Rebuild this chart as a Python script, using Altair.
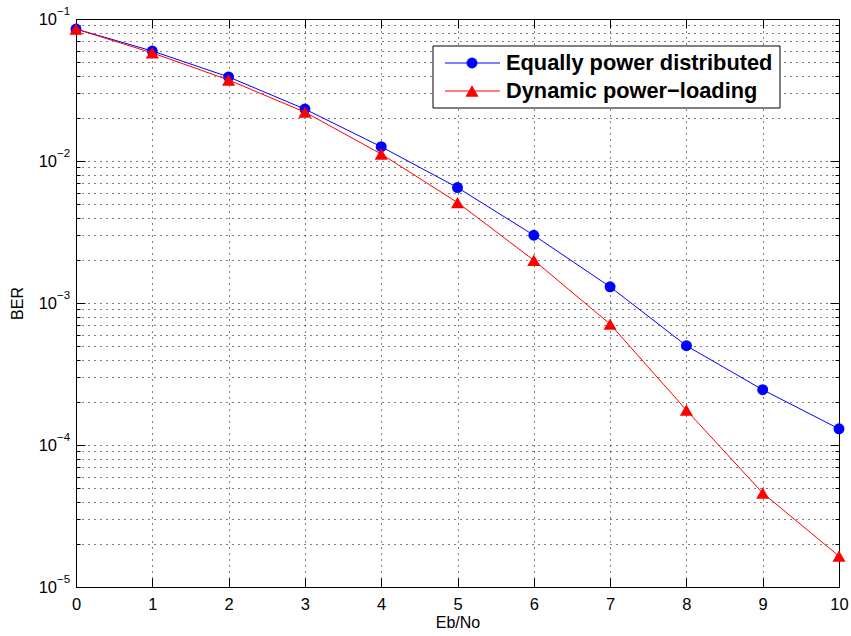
import altair as alt
import pandas as pd

# ---------------- data ----------------
ebno = [0, 1, 2, 3, 4, 5, 6, 7, 8, 9, 10]
ber_equal = [0.085, 0.0595, 0.0391, 0.0232, 0.0126, 0.0065, 0.0030, 0.0013, 0.00050, 0.000245, 0.00013]
ber_dynamic = [0.085, 0.0577, 0.0372, 0.0221, 0.0112, 0.0051, 0.0020, 0.00071, 0.000176, 0.0000459, 0.0000165]
series_names = ["Equally power distributed", "Dynamic power\u2212loading"]
series_colors = ["#0000FF", "#FF0000"]
series_shapes = ["circle", "triangle-up"]

x_ticks = [0, 1, 2, 3, 4, 5, 6, 7, 8, 9, 10]
y_major = [1e-5, 1e-4, 1e-3, 1e-2, 1e-1]
y_exponents = ["\u22125", "\u22124", "\u22123", "\u22122", "\u22121"]
y_minor = [m * 10.0 ** e for e in range(-5, -1) for m in range(2, 10)]

FONT = "Liberation Sans"

df_equal = pd.DataFrame({"x": ebno, "y": ber_equal})
df_dyn = pd.DataFrame({"x": ebno, "y": ber_dynamic})
ticks_df = pd.DataFrame({"v": y_major, "e": y_exponents})

xs = alt.Scale(domain=[0, 10], nice=False, zero=False)
ys = alt.Scale(type="log", domain=[1e-5, 1e-1], nice=False)

x_grid = alt.Axis(orient="bottom", values=x_ticks, grid=True, gridColor="#000000",
                  gridDash=[1, 5], gridWidth=1, gridOpacity=1,
                  labels=False, ticks=False, domain=False, title=None)
x_bottom = alt.Axis(orient="bottom", values=x_ticks, offset=-9, tickSize=9, tickColor="#000000",
                    tickWidth=1, domain=False, grid=False, labelFont=FONT, labelFontSize=16.5,
                    labelColor="#000000", labelPadding=9, labelFlush=False, labelOverlap=False,
                    format="d", title="Eb/No", titleFont=FONT, titleFontSize=16,
                    titleFontWeight="normal", titleColor="#000000", titlePadding=2)
x_top = alt.Axis(orient="top", values=x_ticks, offset=-9, tickSize=9, tickColor="#000000",
                 tickWidth=1, labels=False, domain=False, grid=False, title=None)

y_grid = alt.Axis(orient="left", values=y_major + y_minor, grid=True, gridColor="#000000",
                  gridDash=[1, 5], gridWidth=1, gridOpacity=1,
                  labels=False, ticks=False, domain=False, title="BER", titleFont=FONT,
                  titleFontSize=16, titleFontWeight="normal", titleColor="#000000",
                  titlePadding=51)
y_left_major = alt.Axis(orient="left", values=y_major, offset=-9, tickSize=9, tickColor="#000000",
                        labels=False, domain=False, grid=False, title=None)
y_left_minor = alt.Axis(orient="left", values=y_minor, offset=-4, tickSize=4, tickColor="#000000",
                        labels=False, domain=False, grid=False, title=None)
y_right_major = alt.Axis(orient="right", values=y_major, offset=-9, tickSize=9, tickColor="#000000",
                         labels=False, domain=False, grid=False, title=None)
y_right_minor = alt.Axis(orient="right", values=y_minor, offset=-4, tickSize=4, tickColor="#000000",
                         labels=False, domain=False, grid=False, title=None)

line_equal = alt.Chart(df_equal).mark_line(color=series_colors[0], strokeWidth=1).encode(
    x=alt.X("x:Q", scale=xs, axis=x_grid),
    y=alt.Y("y:Q", scale=ys, axis=y_grid),
)
pts_equal = alt.Chart(df_equal).mark_point(shape=series_shapes[0], filled=True, size=120,
                                           color=series_colors[0], opacity=1).encode(
    x=alt.X("x:Q", scale=xs, axis=x_bottom),
    y=alt.Y("y:Q", scale=ys, axis=y_left_major),
)
line_dyn = alt.Chart(df_dyn).mark_line(color=series_colors[1], strokeWidth=1).encode(
    x=alt.X("x:Q", scale=xs, axis=x_top),
    y=alt.Y("y:Q", scale=ys, axis=y_left_minor),
)
pts_dyn = alt.Chart(df_dyn).mark_point(shape=series_shapes[1], filled=True, size=170,
                                       color=series_colors[1], opacity=1).encode(
    x=alt.X("x:Q", scale=xs, axis=None),
    y=alt.Y("y:Q", scale=ys, axis=y_right_major),
)

lab_base = alt.Chart(ticks_df).mark_text(font=FONT, fontSize=16.5, align="right", baseline="middle",
                                         color="#000000", dy=1).encode(
    x=alt.value(-19),
    y=alt.Y("v:Q", scale=ys, axis=y_right_minor),
    text=alt.value("10"),
)
lab_exp = alt.Chart(ticks_df).mark_text(font=FONT, fontSize=11.5, align="left", baseline="middle",
                                        color="#000000", dy=-7).encode(
    x=alt.value(-19),
    y=alt.Y("v:Q", scale=ys, axis=None),
    text="e:N",
)

# ---------------- legend (drawn by hand, MATLAB style) ----------------
one = pd.DataFrame({"k": [0]})
legend_box = alt.Chart(one).mark_rect(fill="#FFFFFF", stroke="#000000", strokeWidth=1).encode(
    x=alt.value(357), x2=alt.value(704), y=alt.value(27), y2=alt.value(89)
)
legend_layers = [legend_box]
row_y = [44, 72]
for i in range(2):
    legend_layers.append(
        alt.Chart(one).mark_rule(color=series_colors[i], strokeWidth=1).encode(
            x=alt.value(369), x2=alt.value(424), y=alt.value(row_y[i])
        )
    )
    legend_layers.append(
        alt.Chart(one).mark_point(shape=series_shapes[i], filled=True, opacity=1,
                                  size=120 if i == 0 else 170, color=series_colors[i]).encode(
            x=alt.value(396), y=alt.value(row_y[i])
        )
    )
    legend_layers.append(
        alt.Chart(one).mark_text(font=FONT, fontSize=21.8, fontWeight="bold", align="left",
                                 baseline="middle", color="#000000").encode(
            x=alt.value(430), y=alt.value(row_y[i]), text=alt.value(series_names[i])
        )
    )

chart = alt.layer(
    line_equal, pts_equal, line_dyn, pts_dyn, lab_base, lab_exp, *legend_layers
).resolve_axis(x="independent", y="independent").properties(
    width=763, height=568,
    padding={"left": 76, "top": 19, "right": 12, "bottom": 49},
    autosize=alt.AutoSizeParams(type="none"),
    background="#FFFFFF",
).configure_view(stroke="#000000", strokeWidth=1)

chart.save("out.html", embed_options={"renderer": "svg", "actions": False})
